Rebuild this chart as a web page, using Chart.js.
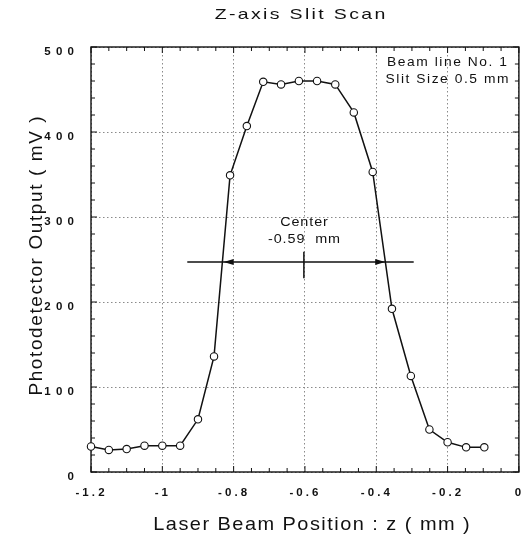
<!DOCTYPE html>
<html>
<head>
<meta charset="utf-8">
<title>Z-axis Slit Scan</title>
<script src="https://cdn.jsdelivr.net/npm/chart.js@4.4.1/dist/chart.umd.min.js"></script>
<style>
    html, body { margin: 0; padding: 0; background: #fff; }
    #wrap { width: 524px; height: 536px; }
</style>
</head>
<body>
<div id="wrap"><canvas id="slitScanChart" width="524" height="536"></canvas></div>
<script>
// Slit scan along z
const positions = [-1.2, -1.15, -1.1, -1.05, -1.0, -0.95, -0.9, -0.855, -0.81, -0.763, -0.717, -0.667,
    -0.617, -0.566, -0.515, -0.463, -0.41, -0.356, -0.303, -0.251, -0.2, -0.148, -0.097];
const outputs = [30, 26, 27, 31, 31, 31, 62, 136, 349, 407, 459, 456,
    460, 460, 456, 423, 353, 192, 113, 50, 35, 29, 29];

const xTickValues = [-1.2, -1, -0.8, -0.6, -0.4, -0.2, 0];
const xTickLabels = ['-1.2', '-1', '-0.8', '-0.6', '-0.4', '-0.2', '0'];
const yTickValues = [0, 100, 200, 300, 400, 500];
const yTickLabels = ['0', '100', '200', '300', '400', '500'];

const infoLines = ['Beam line No. 1', 'Slit Size 0.5 mm'];
const centerLines = ['Center', '-0.59  mm'];

// width marker: level, arrow tips at both crossings, full span, center tick
const markerLevel = 247;
const markerTips = [-0.828, -0.375];
const markerSpan = [-0.93, -0.295];
const markerMid = -0.603;
const markerTick = [228, 259];

const FONT = '"Liberation Sans", Arial, Helvetica, sans-serif';
const INK = '#111';

// text with letter spacing and a horizontal stretch, like the scanned lettering
function spacedText(ctx, text, x, y, o) {
    const stretch = o.stretch || 1;
    ctx.save();
    ctx.font = `${o.weight || 'normal'} ${o.size}px ${FONT}`;
    const hasSpacing = 'letterSpacing' in ctx;
    if (hasSpacing) ctx.letterSpacing = o.spacing + 'px';
    let w = ctx.measureText(text).width;
    if (hasSpacing) w -= o.spacing; // drop trailing gap
    w *= stretch;
    let left = x;
    if (o.align === 'center') left = x - w / 2;
    else if (o.align === 'right') left = x - w;
    ctx.translate(left, y);
    ctx.scale(stretch, 1);
    ctx.textAlign = 'left';
    ctx.textBaseline = 'middle';
    ctx.fillStyle = INK;
    ctx.fillText(text, 0, 0);
    ctx.restore();
}

function seg(ctx, x1, y1, x2, y2) {
    ctx.beginPath();
    ctx.moveTo(x1, y1);
    ctx.lineTo(x2, y2);
    ctx.stroke();
}

function arrowHead(ctx, tipX, y, dir) {
    // dir -1 points left, +1 points right
    ctx.beginPath();
    ctx.moveTo(tipX, y);
    ctx.lineTo(tipX - dir * 10, y - 3);
    ctx.lineTo(tipX - dir * 10, y + 3);
    ctx.closePath();
    ctx.fill();
}

const framePlugin = {
    id: 'frame',
    beforeDatasetsDraw(chart) {
        const { ctx, chartArea: a, scales: { x, y } } = chart;
        ctx.save();
        ctx.strokeStyle = INK;
        ctx.lineWidth = 1.4;
        ctx.strokeRect(a.left, a.top, a.right - a.left, a.bottom - a.top);

        // inward ticks on all four sides
        ctx.lineWidth = 1;
        for (let i = 0; i <= 24; i++) {
            const px = x.getPixelForValue(-1.2 + i * 0.05);
            const len = i % 4 === 0 ? 6 : 4;
            seg(ctx, px, a.bottom, px, a.bottom - len);
            seg(ctx, px, a.top, px, a.top + len);
        }
        for (let i = 0; i <= 25; i++) {
            const py = y.getPixelForValue(i * 20);
            const len = i % 5 === 0 ? 6 : 4;
            seg(ctx, a.left, py, a.left + len, py);
            seg(ctx, a.right, py, a.right - len, py);
        }
        ctx.restore();
    },
    afterDraw(chart) {
        const { ctx, scales: { x, y } } = chart;
        ctx.save();

        // FWHM marker
        const my = y.getPixelForValue(markerLevel);
        ctx.strokeStyle = INK;
        ctx.fillStyle = INK;
        ctx.lineWidth = 1.5;
        seg(ctx, x.getPixelForValue(markerSpan[0]), my, x.getPixelForValue(markerSpan[1]), my);
        arrowHead(ctx, x.getPixelForValue(markerTips[0]), my, -1);
        arrowHead(ctx, x.getPixelForValue(markerTips[1]), my, 1);
        const mx = x.getPixelForValue(markerMid);
        seg(ctx, mx, y.getPixelForValue(markerTick[0]), mx, y.getPixelForValue(markerTick[1]));

        const note = { size: 12.5, spacing: 0.8, align: 'center', stretch: 1.15 };
        spacedText(ctx, centerLines[0], 304, 223, note);
        spacedText(ctx, centerLines[1], 304, 240, note);

        const info = { size: 12, spacing: 1.35, align: 'center', stretch: 1.15 };
        spacedText(ctx, infoLines[0], 447, 63, info);
        spacedText(ctx, infoLines[1], 447, 79.5, info);

        // tick labels
        const xLab = { size: 10, spacing: 2.7, align: 'center', weight: 'bold', stretch: 1.15 };
        xTickValues.forEach((v, i) => {
            spacedText(ctx, xTickLabels[i], x.getPixelForValue(v) - 1, 493, xLab);
        });
        const yLab = { size: 10, spacing: 4.6, align: 'right', weight: 'bold', stretch: 1.15 };
        yTickValues.forEach((v, i) => {
            spacedText(ctx, yTickLabels[i], 74, y.getPixelForValue(v) + 5.5, yLab);
        });

        // titles
        spacedText(ctx, 'Z-axis Slit Scan', 300, 15,
            { size: 15, spacing: 1.8, align: 'center', stretch: 1.3 });
        spacedText(ctx, 'Laser Beam Position : z ( mm )', 311.5, 525,
            { size: 19, spacing: 1.4, align: 'center', stretch: 1.05 });
        ctx.translate(37, 256);
        ctx.rotate(-Math.PI / 2);
        spacedText(ctx, 'Photodetector Output ( mV )', 0, 0,
            { size: 19, spacing: 1.6, align: 'center' });

        ctx.restore();
    }
};

const gridStyle = { color: '#8a8a8a', lineWidth: 1, drawTicks: false };

new Chart(document.getElementById('slitScanChart'), {
    type: 'line',
    data: {
        datasets: [{
            data: positions.map((p, i) => ({ x: p, y: outputs[i] })),
            borderColor: INK,
            borderWidth: 1.5,
            pointRadius: 3.7,
            pointBackgroundColor: '#fff',
            pointBorderColor: INK,
            pointBorderWidth: 1.1,
            tension: 0,
            clip: false
        }]
    },
    options: {
        responsive: false,
        animation: false,
        devicePixelRatio: 1,
        layout: { padding: { top: 47, right: 2, left: 0, bottom: 0 } },
        plugins: {
            legend: { display: false },
            tooltip: { enabled: false },
            title: { display: false }
        },
        scales: {
            x: {
                type: 'linear',
                min: -1.2,
                max: 0,
                afterFit: s => { s.height = 64; },
                ticks: { stepSize: 0.2, display: false },
                grid: gridStyle,
                border: { display: false, dash: [1.5, 2.5] }
            },
            y: {
                min: 0,
                max: 500,
                afterFit: s => { s.width = 91; },
                ticks: { stepSize: 100, display: false },
                grid: gridStyle,
                border: { display: false, dash: [1.5, 2.5] }
            }
        }
    },
    plugins: [framePlugin]
});
</script>
</body>
</html>
